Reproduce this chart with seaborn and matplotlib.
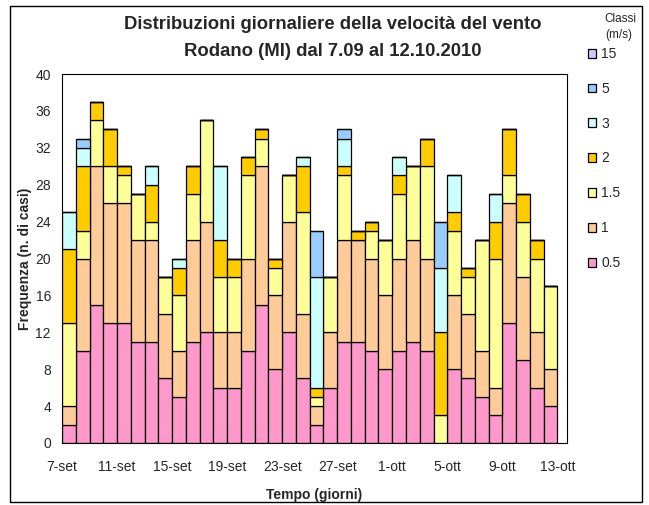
import numpy as np
import pandas as pd
import matplotlib
matplotlib.use('Agg')
import matplotlib.pyplot as plt
from matplotlib.patches import Rectangle
import seaborn as sns

sns.set_theme(style='white')
plt.rcParams['font.family'] = ['Liberation Sans', 'DejaVu Sans']

# daily counts per wind-speed class (m/s), 7 Sep - 12 Oct 2010
c05 = [2, 10, 15, 13, 13, 11, 11, 7, 5, 11, 12, 6, 6, 10, 15, 8, 12, 7,
       2, 6, 11, 11, 10, 8, 10, 11, 10, 0, 8, 7, 5, 3, 13, 9, 6, 4]
c1 = [2, 10, 15, 13, 13, 11, 11, 7, 5, 11, 12, 6, 6, 10, 15, 8, 12, 7,
      2, 6, 11, 11, 10, 8, 10, 11, 10, 0, 8, 7, 5, 3, 13, 9, 6, 4]
c1_5 = [9, 3, 5, 4, 3, 5, 2, 4, 6, 5, 11, 6, 6, 9, 3, 3, 5, 11,
        1, 6, 7, 0, 3, 6, 7, 8, 10, 3, 7, 4, 12, 14, 3, 6, 8, 9]
c2 = [8, 7, 2, 4, 1, 0, 4, 0, 3, 3, 0, 4, 2, 2, 1, 1, 0, 5,
      1, 0, 1, 1, 1, 0, 2, 0, 3, 9, 2, 1, 0, 4, 5, 3, 2, 0]
c3 = [4, 2, 0, 0, 0, 0, 2, 0, 1, 0, 0, 8, 0, 0, 0, 0, 0, 1,
      12, 0, 3, 0, 0, 0, 2, 0, 0, 7, 4, 0, 0, 3, 0, 0, 0, 0]
c5 = [0, 1, 0, 0, 0, 0, 0, 0, 0, 0, 0, 0, 0, 0, 0, 0, 0, 0,
      5, 0, 1, 0, 0, 0, 0, 0, 0, 5, 0, 0, 0, 0, 0, 0, 0, 0]
c15 = [0] * 36

classes = ['15', '5', '3', '2', '1.5', '1', '0.5']
colors = ['#CCCCFF', '#99CCFF', '#CCFFFF', '#FFCC00', '#FFFF99', '#FFCC99', '#FF99CC']
tick_labels = ['7-set', '11-set', '15-set', '19-set', '23-set', '27-set',
               '1-ott', '5-ott', '9-ott', '13-ott']

n_days = len(c05)
series = [c15, c5, c3, c2, c1_5, c1, c05]
df = pd.DataFrame({
    'giorno': np.tile(np.arange(n_days) + 0.5, len(classes)),
    'classe': np.repeat(classes, n_days),
    'n': np.concatenate(series).astype(float),
})

fig = plt.figure(figsize=(6.49, 5.05), dpi=100)
ax = fig.add_axes([62/649, 62/505, (567-62)/649, (443-74)/505])

sns.histplot(data=df, x='giorno', weights='n', hue='classe', hue_order=classes,
             multiple='stack', binwidth=1, binrange=(0, n_days),
             palette=dict(zip(classes, colors)), alpha=1,
             edgecolor='black', linewidth=0.9, ax=ax)

ax.set_xlim(0, 36.7)
ax.set_ylim(0, 40)
ax.set_yticks(np.arange(0, 41, 4))
ax.set_xticks(np.arange(0, n_days + 1, 4))
ax.set_xticklabels(tick_labels)
ax.tick_params(axis='both', direction='out', length=4, width=0.8, color='black',
               labelsize=10, pad=8)
ax.tick_params(axis='y', pad=4)
for s in ax.spines.values():
    s.set_color('black')
    s.set_linewidth(0.8)

ax.set_xlabel('Tempo (giorni)', fontsize=10, fontweight='bold', labelpad=10)
ax.set_ylabel('Frequenza (n. di casi)', fontsize=10, fontweight='bold', labelpad=2)

fig.text(0.513, 0.951, 'Distribuzioni giornaliere della velocità del vento',
         ha='center', va='center', fontsize=13.3, fontweight='bold')
fig.text(0.513, 0.899, 'Rodano (MI) dal 7.09 al 12.10.2010',
         ha='center', va='center', fontsize=13.3, fontweight='bold')

# legend title drawn on its own, entries spaced like the original
fig.text(620/649, 1 - 19/505, 'Classi', ha='center', va='center', fontsize=8.5)
fig.text(619/649, 1 - 35/505, '(m/s)', ha='center', va='center', fontsize=8.5)
sns.move_legend(ax, loc='upper left', bbox_to_anchor=(588/649, 1 - 47/505),
                bbox_transform=fig.transFigure, frameon=False, title=None,
                fontsize=10, labelspacing=1.5, handlelength=0.6,
                handleheight=0.6, handletextpad=0.35, borderpad=0,
                borderaxespad=0)

fig.add_artist(Rectangle((10/649, 3/505), (642-10)/649, (499-3)/505,
                         transform=fig.transFigure, fill=False,
                         edgecolor='black', linewidth=1))

plt.savefig('out.png', dpi=100)
